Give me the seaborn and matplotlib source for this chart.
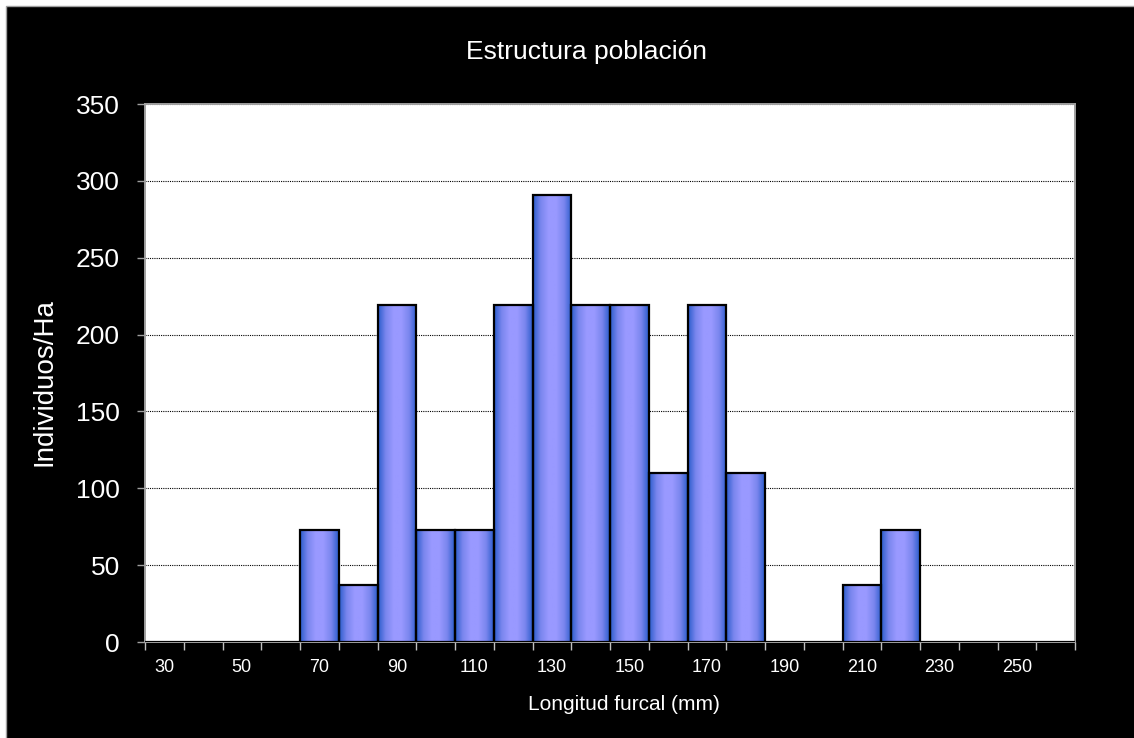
import numpy as np
import pandas as pd
import matplotlib
matplotlib.use('Agg')
import matplotlib.pyplot as plt
import seaborn as sns
from matplotlib.colors import LinearSegmentedColormap
from matplotlib.patches import Rectangle

# values
longitudes = list(range(30, 270, 10))
individuos = [0, 0, 0, 0, 73, 37, 219, 73, 73, 219, 291, 219,
              219, 110, 219, 110, 0, 0, 37, 73, 0, 0, 0, 0]
tick_labels = [str(v) for v in range(30, 260, 20)]

df = pd.DataFrame({'longitud': longitudes, 'individuos': individuos})

sns.set_style('white')
plt.rcParams['font.family'] = ['Liberation Sans', 'DejaVu Sans']

fig = plt.figure(figsize=(11.34, 7.38), dpi=100)
fig.patch.set_facecolor('white')
# black chart area with thin grey border (Excel style), running off the right/bottom edges
fig.patches.append(Rectangle((6 / 1134, -0.01), 1.0, 732 / 738 + 0.01, transform=fig.transFigure,
                             facecolor='black', edgecolor='#a0a0a0', linewidth=1, zorder=-10))

ax = fig.add_axes([145 / 1134, 1 - 642 / 738, 930 / 1134, 538 / 738])
ax.set_facecolor('white')

sns.barplot(data=df, x='longitud', y='individuos', width=1.0, color='#9999ff',
            edgecolor='black', linewidth=1.6, ax=ax, zorder=3)

# horizontal gradient inside each bar
grad_cmap = LinearSegmentedColormap.from_list('bar', ['#2a5ccc', '#7a86ee', '#9999ff', '#9999ff', '#7a86ee', '#2a5ccc'])
grad = np.linspace(0, 1, 256).reshape(1, -1)
for p in ax.patches:
    h = p.get_height()
    if h <= 0:
        continue
    x0 = p.get_x()
    w = p.get_width()
    ax.imshow(grad, cmap=grad_cmap, extent=[x0, x0 + w, 0, h], aspect='auto', zorder=2.5,
              interpolation='bilinear')
    p.set_facecolor('none')

ax.set_xlim(-0.5, len(longitudes) - 0.5)
ax.set_ylim(0, 350)
ax.set_yticks(range(0, 351, 50))
ax.grid(axis='y', color='black', linestyle=(0, (1, 1)), linewidth=0.8, zorder=1)
ax.set_axisbelow(True)

# x ticks at category boundaries, labels every other category
ax.set_xticks(np.arange(-0.5, len(longitudes), 1.0))
ax.set_xticklabels([])
ax.set_xticks(np.arange(0, len(longitudes), 2), minor=True)
ax.set_xticklabels(tick_labels, minor=True)
ax.tick_params(axis='x', which='major', direction='out', length=6, color='#c0c0c0', width=1, bottom=True)
ax.tick_params(axis='x', which='minor', length=0, pad=12, labelsize=13, labelcolor='white')
ax.tick_params(axis='y', direction='out', length=6, color='#a0a0a0', width=1, left=True,
               labelsize=19, labelcolor='white', pad=12)

for s in ax.spines.values():
    s.set_color('#a0a0a0')
    s.set_linewidth(1.4)

ax.set_xlabel('')
ax.set_ylabel('')
fig.text(586 / 1134, 1 - 52 / 738, 'Estructura población', color='white',
         fontsize=19, ha='center', va='center')
fig.text(624 / 1134, 1 - 705 / 738, 'Longitud furcal (mm)', color='white',
         fontsize=15, ha='center', va='center')
fig.text(45 / 1134, 1 - 382 / 738, 'Individuos/Ha', color='white', fontsize=20,
         rotation=90, ha='center', va='center')

fig.savefig('out.png', dpi=100, facecolor=fig.get_facecolor())
